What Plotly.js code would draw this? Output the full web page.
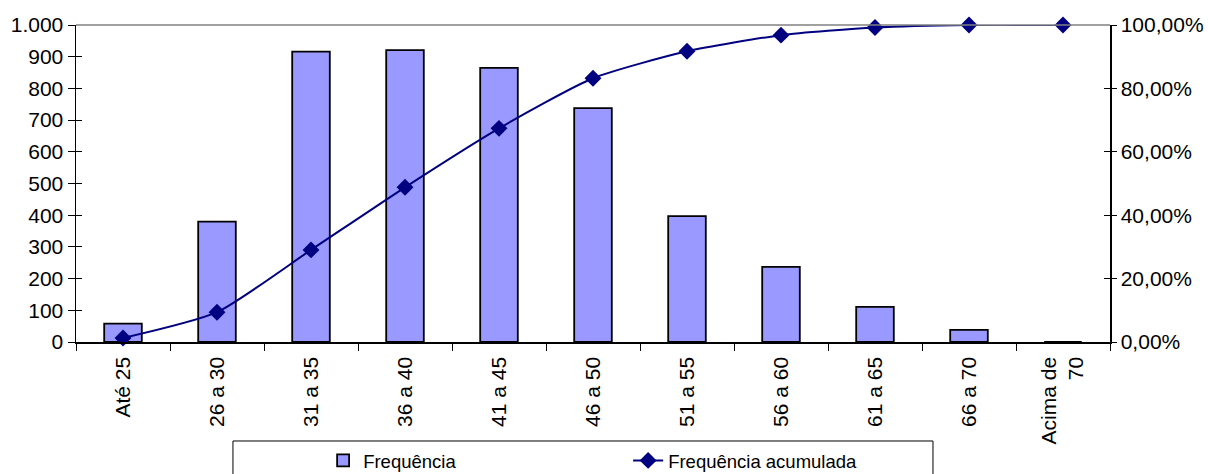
<!DOCTYPE html>
<html>
<head>
<meta charset="utf-8">
<script src="https://cdn.plot.ly/plotly-3.0.1.min.js"></script>
<style>
html,body{margin:0;padding:0;background:#fff;}
#chart{width:1208px;height:474px;}
</style>
</head>
<body>
<div id="chart"></div>
<script>
const categories = ["Até 25","26 a 30","31 a 35","36 a 40","41 a 45","46 a 50","51 a 55","56 a 60","61 a 65","66 a 70","Acima de<br>70"];
const frequencia = [58, 380, 916, 921, 865, 738, 397, 237, 111, 38, 0];
const acumulada = [0.0124, 0.094, 0.2905, 0.488, 0.674, 0.832, 0.917, 0.968, 0.992, 1.0, 1.0];

const FONT = "Liberation Sans, Arial, sans-serif";
const TICKSIZE = 21;

const traces = [
  {
    type: "bar",
    name: "Frequência",
    x: categories,
    y: frequencia,
    width: 0.4,
    marker: {color: "#9999FF", line: {color: "#000000", width: 1.8}},
    yaxis: "y",
    hoverinfo: "x+y"
  },
  {
    type: "scatter",
    mode: "lines+markers",
    name: "Frequência acumulada",
    x: categories,
    y: acumulada,
    yaxis: "y2",
    line: {color: "#000080", width: 2, shape: "spline", smoothing: 0.6},
    marker: {symbol: "diamond", size: 13, color: "#000080"},
    cliponaxis: false
  },
  {
    type: "scatter", x: [], y: [], yaxis: "y3", showlegend: false, hoverinfo: "skip"
  },
  {
    type: "scatter", x: [], y: [], yaxis: "y4", showlegend: false, hoverinfo: "skip"
  }
];

const layout = {
  width: 1208,
  height: 474,
  margin: {l: 76, r: 98, t: 25, b: 132, autoexpand: false},
  paper_bgcolor: "#ffffff",
  plot_bgcolor: "#ffffff",
  separators: ",.",
  font: {family: FONT, size: TICKSIZE, color: "#000000"},
  xaxis: {
    type: "category",
    range: [-0.5, 10.5],
    showline: true,
    linecolor: "#000000",
    linewidth: 1.5,
    ticks: "outside",
    tickson: "boundaries",
    ticklen: 7,
    tickcolor: "#000000",
    tickwidth: 1,
    tickangle: -90,
    ticklabelstandoff: 5,
    showgrid: false,
    zeroline: false,
    automargin: false,
    tickfont: {family: FONT, size: TICKSIZE, color: "#000000"}
  },
  yaxis: {
    range: [0, 1000],
    dtick: 100,
    tickformat: ",d",
    showline: true,
    linecolor: "#000000",
    linewidth: 1.5,
    ticks: "outside",
    ticklen: 7,
    tickcolor: "#000000",
    showgrid: false,
    zeroline: false,
    automargin: false,
    tickfont: {family: FONT, size: TICKSIZE, color: "#000000"}
  },
  yaxis2: {
    overlaying: "y",
    side: "right",
    range: [0, 1],
    dtick: 0.2,
    tickformat: ".2%",
    showline: true,
    linecolor: "#000000",
    linewidth: 1.5,
    ticks: "outside",
    ticklen: 5,
    tickcolor: "#000000",
    showgrid: false,
    zeroline: false,
    automargin: false,
    tickfont: {family: FONT, size: TICKSIZE, color: "#000000"}
  },
  yaxis3: {
    overlaying: "y", side: "left", range: [0, 1000], dtick: 100,
    ticks: "inside", ticklen: 6, tickcolor: "#000000",
    showticklabels: false, showline: false, showgrid: false, zeroline: false
  },
  yaxis4: {
    overlaying: "y", side: "right", range: [0, 1], dtick: 0.2,
    ticks: "inside", ticklen: 6, tickcolor: "#000000",
    showticklabels: false, showline: false, showgrid: false, zeroline: false
  },
  showlegend: true,
  legend: {
    orientation: "h",
    x: 0.239,
    xanchor: "left",
    y: -0.375,
    yanchor: "middle",
    entrywidth: 260,
    entrywidthmode: "pixels",
    bgcolor: "rgba(0,0,0,0)",
    borderwidth: 0,
    font: {family: FONT, size: 18.5, color: "#000000"},
    traceorder: "normal"
  },
  shapes: [
    {type: "line", xref: "paper", yref: "paper", x0: 0, x1: 1, y0: 1, y1: 1,
     line: {color: "#808080", width: 1.5}},
    {type: "rect", xref: "paper", yref: "paper", x0: 0.1518, x1: 0.8288, y0: -0.3123, y1: -0.55,
     line: {color: "#000000", width: 1}, fillcolor: "rgba(0,0,0,0)"}
  ]
};

Plotly.newPlot("chart", traces, layout, {displayModeBar: false, staticPlot: true});
</script>
</body>
</html>
